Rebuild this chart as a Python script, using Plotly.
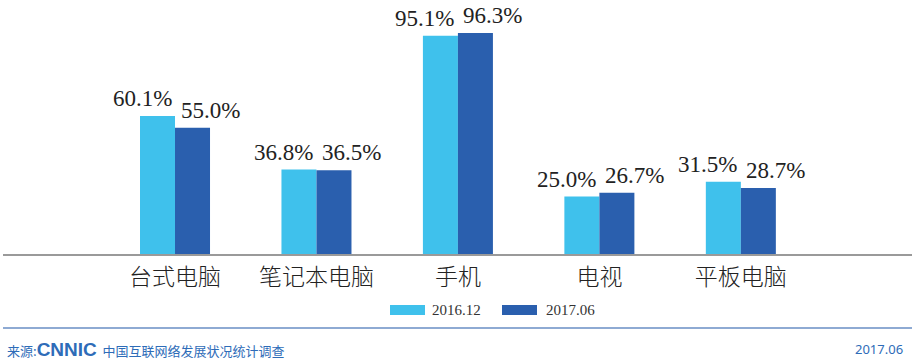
import plotly.graph_objects as go

categories = ["台式电脑", "笔记本电脑", "手机", "电视", "平板电脑"]
series_names = ["2016.12", "2017.06"]
values_2016_12 = [60.1, 36.8, 95.1, 25.0, 31.5]
values_2017_06 = [55.0, 36.5, 96.3, 26.7, 28.7]
colors = ["#3fc1ec", "#2a5fae"]
source_text = "中国互联网络发展状况统计调查"
date_text = "2017.06"

W, H = 915, 364
ML, MR, MT, MB = 3, 3, 10, 110

fig = go.Figure()
for name, vals, col in zip(series_names, [values_2016_12, values_2017_06], colors):
    fig.add_trace(go.Bar(x=categories, y=vals, name=name, marker_color=col,
                         marker_line_width=0, showlegend=False, hoverinfo="skip"))

annotations = []
for vals, shift in [(values_2016_12, -33), (values_2017_06, 35)]:
    for c, v in zip(categories, vals):
        annotations.append(dict(x=c, y=v, xref="x", yref="y", text=f"{v:.1f}%",
                                showarrow=False, xanchor="center", yanchor="bottom",
                                xshift=shift, yshift=3,
                                font=dict(family="Liberation Serif", size=23, color="#222")))

# custom legend
shapes = []
leg_y0, leg_y1 = 1 - (315 - MT) / (H - MT - MB), 1 - (305 - MT) / (H - MT - MB)
legend_items = [(390, 425, 430), (502, 537, 544)]
for (x0, x1, tx), name, col in zip(legend_items, series_names, colors):
    shapes.append(dict(type="rect", xref="paper", yref="paper",
                       x0=(x0 - ML) / (W - ML - MR), x1=(x1 - ML) / (W - ML - MR),
                       y0=leg_y0, y1=leg_y1, fillcolor=col, line_width=0))
    annotations.append(dict(x=(tx - ML) / (W - ML - MR), y=(leg_y0 + leg_y1) / 2,
                            xref="paper", yref="paper", text=name, showarrow=False,
                            xanchor="left", yanchor="middle",
                            font=dict(family="Liberation Serif", size=15, color="#333")))

# footer line
fy = 1 - (328 - MT) / (H - MT - MB)
shapes.append(dict(type="line", xref="paper", yref="paper", x0=0, x1=1, y0=fy, y1=fy,
                   line=dict(color="#8eaad3", width=2)))

foot_y = 1 - (349 - MT) / (H - MT - MB)
annotations.append(dict(x=(5 - ML) / (W - ML - MR), y=foot_y, xref="paper", yref="paper",
                        text="<span style='font-size:13px'>来源:</span>"
                             "<b><span style='font-size:19px;font-family:Liberation Sans'>CNNIC</span></b>"
                             "<span style='font-size:13px'>  " + source_text + "</span>",
                        showarrow=False, xanchor="left", yanchor="middle",
                        font=dict(family="Noto Sans CJK SC", size=13, color="#2e6cb8")))
annotations.append(dict(x=(905 - ML) / (W - ML - MR), y=foot_y, xref="paper", yref="paper",
                        text=date_text, showarrow=False, xanchor="right", yanchor="middle",
                        font=dict(family="Noto Sans", size=13, color="#2e6cb8")))

fig.update_layout(
    width=W, height=H,
    margin=dict(l=ML, r=MR, t=MT, b=MB),
    paper_bgcolor="white", plot_bgcolor="white",
    barmode="group", bargap=0.505, bargroupgap=0,
    annotations=annotations, shapes=shapes,
    xaxis=dict(range=[-1.216, 5.21], showgrid=False, zeroline=False,
               showline=True, linecolor="#9a9a9a", linewidth=2,
               ticks="", ticklabelstandoff=1,
               tickfont=dict(family="Noto Sans CJK SC", size=23, color="#222", weight=300)),
    yaxis=dict(range=[0, 106.3], visible=False, showgrid=False, zeroline=False),
)

fig.write_html("out.html", config={"displayModeBar": False},
               post_script="document.body.style.margin='0';")
